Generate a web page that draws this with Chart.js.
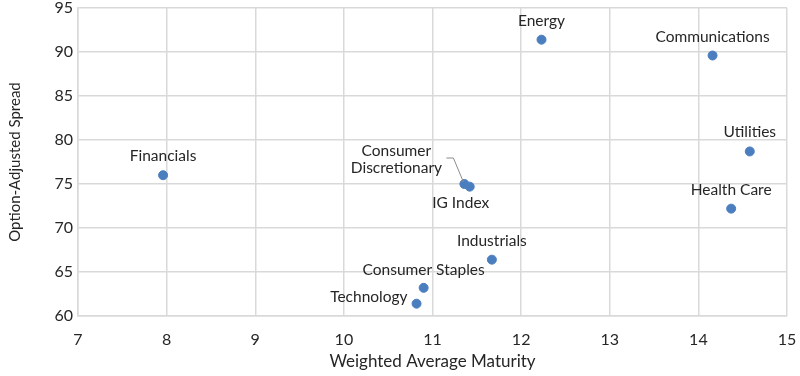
<!DOCTYPE html>
<html>
<head>
<meta charset="utf-8">
<script src="https://cdn.jsdelivr.net/npm/chart.js@4.4.1/dist/chart.umd.min.js"></script>
<style>
  html, body { margin: 0; padding: 0; background: #fff; }
  #wrap { width: 800px; height: 376px; }
</style>
</head>
<body>
<div id="wrap"><canvas id="chart" width="800" height="376"></canvas></div>
<script>
// sector data
const sectors = ['Financials', 'Energy', 'Communications', 'Utilities', 'Health Care',
  'Consumer Discretionary', 'IG Index', 'Industrials', 'Consumer Staples', 'Technology'];
const maturity = [7.96, 12.23, 14.16, 14.58, 14.37, 11.36, 11.42, 11.67, 10.90, 10.82];
const spread = [76.0, 91.4, 89.6, 78.7, 72.2, 75.0, 74.7, 66.4, 63.2, 61.4];

const xTicks = { min: 7, max: 15, step: 1 };
const yTicks = { min: 60, max: 95, step: 5 };

const FONT = 'Lato, "Noto Sans", sans-serif';
const GRID = '#d9d9d9';
const TEXT = '#262626';

// where each label sits relative to its point
const labelPos = {
  'Financials': { dx: 0, dy: -19, align: 'center' },
  'Energy': { dx: 0, dy: -19, align: 'center' },
  'Communications': { dx: 0, dy: -19, align: 'center' },
  'Utilities': { dx: 0, dy: -19, align: 'center' },
  'Health Care': { dx: 0, dy: -19, align: 'center' },
  'Consumer Discretionary': { dx: -68, dy: -33, align: 'center', lines: ['Consumer', 'Discretionary'] },
  'IG Index': { dx: -9, dy: 16, align: 'center' },
  'Industrials': { dx: 0, dy: -19, align: 'center' },
  'Consumer Staples': { dx: 0, dy: -18, align: 'center' },
  'Technology': { dx: -9, dy: -7, align: 'right' }
};

const pointLabels = {
  id: 'pointLabels',
  afterDatasetsDraw(chart) {
    const ctx = chart.ctx;
    const meta = chart.getDatasetMeta(0);
    ctx.save();
    ctx.font = '15.5px ' + FONT;
    ctx.fillStyle = TEXT;
    ctx.textBaseline = 'middle';
    meta.data.forEach((pt, i) => {
      const name = sectors[i];
      const p = labelPos[name];
      ctx.textAlign = p.align;
      const lines = p.lines || [name];
      lines.forEach((ln, j) => {
        ctx.fillText(ln, pt.x + p.dx, pt.y + p.dy + j * 17);
      });
      if (name === 'Consumer Discretionary') {
        // leader line
        ctx.strokeStyle = '#8c8c8c';
        ctx.lineWidth = 1;
        ctx.beginPath();
        ctx.moveTo(pt.x - 18, pt.y - 26);
        ctx.lineTo(pt.x - 11, pt.y - 26);
        ctx.lineTo(pt.x - 1, pt.y - 2);
        ctx.stroke();
      }
    });
    ctx.restore();
  }
};

new Chart(document.getElementById('chart'), {
  type: 'scatter',
  data: {
    datasets: [{
      data: maturity.map((x, i) => ({ x: x, y: spread[i] })),
      backgroundColor: '#4a7ebf',
      borderColor: '#4a7ebf',
      pointRadius: 4.5,
      pointHoverRadius: 4.5
    }]
  },
  options: {
    responsive: false,
    animation: false,
    layout: { padding: { top: 8, right: 13, left: 0, bottom: 0 } },
    plugins: {
      legend: { display: false },
      tooltip: { enabled: false }
    },
    scales: {
      x: {
        type: 'linear',
        min: xTicks.min,
        max: xTicks.max,
        ticks: { stepSize: xTicks.step, padding: 14, color: TEXT, font: { family: FONT, size: 16 } },
        grid: { color: GRID, lineWidth: 1.5, drawTicks: false },
        border: { color: GRID, width: 1.5 },
        title: { display: true, text: 'Weighted Average Maturity', color: TEXT, font: { family: FONT, size: 17 }, padding: { top: 4, bottom: 4 } },
        afterFit(scale) {
          scale.height = 60;
          scale.paddingLeft = 0;
          scale.paddingRight = 0;
        }
      },
      y: {
        min: yTicks.min,
        max: yTicks.max,
        ticks: { stepSize: yTicks.step, padding: 5, color: TEXT, font: { family: FONT, size: 16 } },
        grid: { color: GRID, lineWidth: 1.5, drawTicks: false },
        border: { color: GRID, width: 1.5 },
        title: { display: true, text: 'Option-Adjusted Spread', color: TEXT, font: { family: FONT, size: 15 }, padding: { top: 6, bottom: 0 } },
        afterFit(scale) {
          scale.width = 78;
          scale.paddingTop = 0;
          scale.paddingBottom = 0;
        }
      }
    }
  },
  plugins: [pointLabels]
});
</script>
</body>
</html>
